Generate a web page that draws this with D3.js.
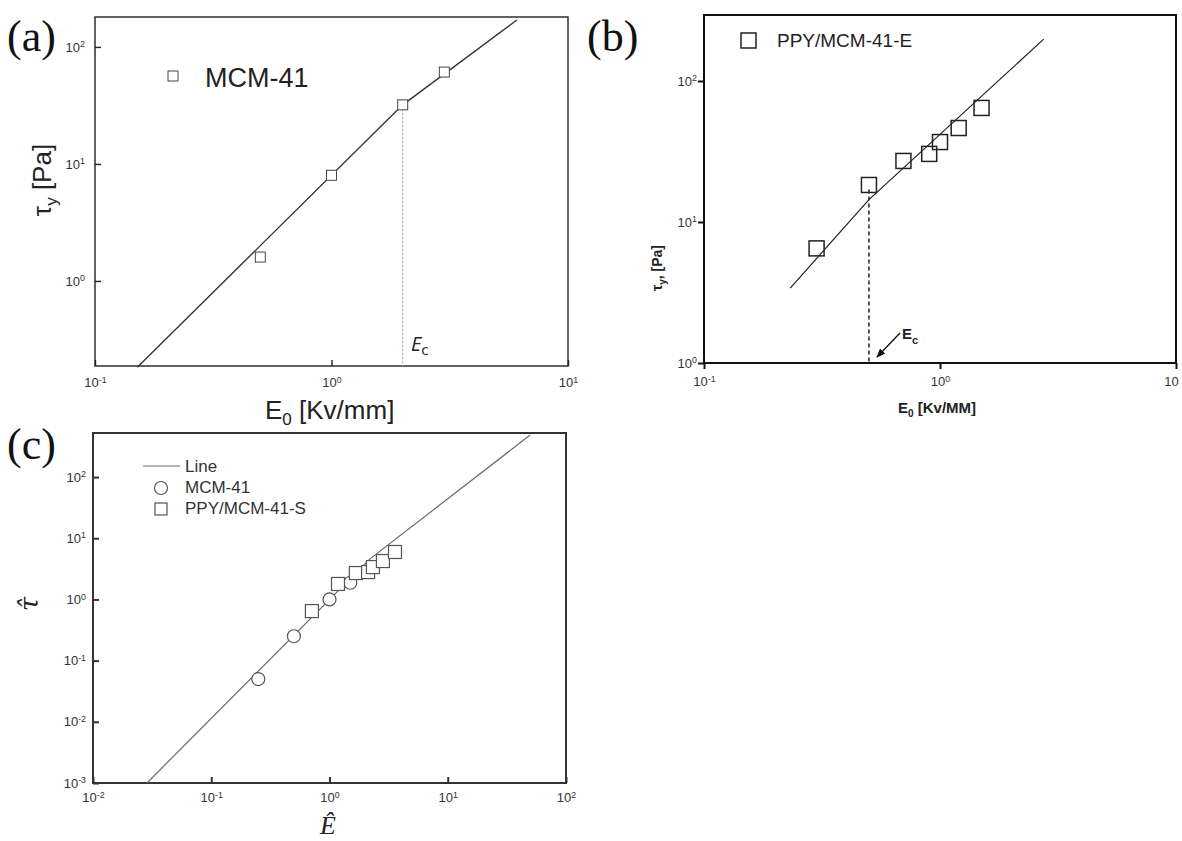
<!DOCTYPE html>
<html>
<head>
<meta charset="UTF-8">
<title>Yield stress vs electric field</title>
<script src="https://cdn.jsdelivr.net/npm/d3@7"></script>
<style>
  body { margin: 0; padding: 0; background: #fff; }
</style>
</head>
<body>
<script>
// ---- panel (a): MCM-41
var aE = [0.5, 1, 2, 3];
var aTau = [1.6, 8, 32, 61];
var aFitE = [0.151, 2, 6.08];
var aFitTau = [0.183, 32, 170];
var aEc = 2;
var aXTicks = [0.1, 1, 10], aYTicks = [1, 10, 100];
var aXLabels = [["10", "-1"], ["10", "0"], ["10", "1"]];
var aYLabels = [["10", "0"], ["10", "1"], ["10", "2"]];

// ---- panel (b): PPY/MCM-41-E
var bE = [0.3, 0.5, 0.7, 0.9, 1.0, 1.2, 1.5];
var bTau = [6.5, 18.3, 27.1, 30.4, 36.9, 46.4, 64.4];
var bFitE = [0.232, 0.5, 2.75];
var bFitTau = [3.4, 14.4, 198];
var bEc = 0.5, bEcTop = 17;
var bXTicks = [0.1, 1, 10], bYTicks = [1, 10, 100];
var bXLabels = [["10", "-1"], ["10", "0"], ["10", ""]];
var bYLabels = [["10", "0"], ["10", "1"], ["10", "2"]];

// ---- panel (c): normalised
var cCircE = [0.25, 0.5, 1, 1.5];
var cCircTau = [0.05, 0.25, 1, 1.875];
var cSqE = [0.71, 1.18, 1.67, 2.12, 2.33, 2.83, 3.58];
var cSqTau = [0.645, 1.79, 2.70, 2.8, 3.38, 4.24, 5.96];
var cFitE = [0.0286, 2.2, 49.7];
var cFitTau = [0.001, 4.6, 485];
var cXTicks = [0.01, 0.1, 1, 10, 100], cYTicks = [0.001, 0.01, 0.1, 1, 10, 100];
var cXLabels = [["10", "-2"], ["10", "-1"], ["10", "0"], ["10", "1"], ["10", "2"]];
var cYLabels = [["10", "-3"], ["10", "-2"], ["10", "-1"], ["10", "0"], ["10", "1"], ["10", "2"]];

var SANS = "'Liberation Sans', Arial, sans-serif";
var SERIF = "'Liberation Serif', 'Times New Roman', serif";

var svg = d3.select("body").append("svg")
	.attr("width", 1182)
	.attr("height", 841)
	.style("font-family", SANS);

function zip(xs, ys) {
	return xs.map(function (v, i) { return [v, ys[i]]; });
}

// write "10" + superscript into the tick texts
function supLabels(sel, labels, size) {
	sel.selectAll(".tick text").each(function (d, i) {
		var t = d3.select(this).text(labels[i][0])
			.attr("font-size", size)
			.attr("fill", "#333");
		if (labels[i][1] !== "") {
			t.append("tspan").attr("dy", "-0.5em").attr("font-size", "0.68em").text(labels[i][1]);
		}
	});
}

function makePanel(p) {
	var x = d3.scaleLog().domain(p.xDom).range([p.l, p.r]);
	var y = d3.scaleLog().domain(p.yDom).range([p.b, p.t]);
	var g = svg.append("g");

	var gy = g.append("g")
		.attr("transform", "translate(" + p.l + ",0)")
		.call(d3.axisLeft(y).tickValues(p.yTicks).tickSize(p.tick).tickPadding(p.yPad).tickFormat(""));
	var gx = g.append("g")
		.attr("transform", "translate(0," + p.b + ")")
		.call(d3.axisBottom(x).tickValues(p.xTicks).tickSize(p.tick).tickPadding(p.xPad).tickFormat(""));
	[gx, gy].forEach(function (a) {
		a.attr("font-family", null);
		a.select(".domain").remove();
		a.selectAll(".tick line").attr("stroke", p.frame).attr("stroke-width", p.fw);
	});
	supLabels(gy, p.yLabels, p.fs);
	supLabels(gx, p.xLabels, p.fs);

	g.append("rect")
		.attr("x", p.l).attr("y", p.t)
		.attr("width", p.r - p.l).attr("height", p.b - p.t)
		.attr("fill", "none")
		.attr("stroke", p.frame)
		.attr("stroke-width", p.fw);

	return { x: x, y: y, g: g, gx: gx, gy: gy };
}

function lineOf(pn) {
	return d3.line().x(function (d) { return pn.x(d[0]); }).y(function (d) { return pn.y(d[1]); });
}

// ================= (a)
var pa = makePanel({
	l: 95, r: 568, t: 17, b: 366,
	xDom: [0.1, 10], yDom: [Math.pow(10, -0.727), Math.pow(10, 2.256)],
	xTicks: aXTicks, yTicks: aYTicks, xLabels: aXLabels, yLabels: aYLabels,
	tick: -6, xPad: 12, yPad: 10, fs: 13, frame: "#222", fw: 1.4
});

pa.g.append("line")
	.attr("x1", pa.x(aEc)).attr("x2", pa.x(aEc))
	.attr("y1", pa.y(aTau[2])).attr("y2", 366)
	.attr("stroke", "#9a9a9a").attr("stroke-width", 1)
	.attr("stroke-dasharray", "2,2");

pa.g.append("path")
	.datum(zip(aFitE, aFitTau))
	.attr("d", lineOf(pa))
	.attr("fill", "none").attr("stroke", "#333").attr("stroke-width", 1.4);

pa.g.selectAll("rect.pt").data(zip(aE, aTau)).enter().append("rect")
	.attr("class", "pt")
	.attr("x", function (d) { return pa.x(d[0]) - 5; })
	.attr("y", function (d) { return pa.y(d[1]) - 5; })
	.attr("width", 10).attr("height", 10)
	.attr("fill", "#fff").attr("stroke", "#444").attr("stroke-width", 1);

pa.g.append("rect").attr("x", 168).attr("y", 71).attr("width", 10).attr("height", 10)
	.attr("fill", "#fff").attr("stroke", "#444").attr("stroke-width", 1);
pa.g.append("text").attr("x", 205).attr("y", 87).attr("font-size", 27).attr("fill", "#222").text("MCM-41");

var ecA = pa.g.append("text").attr("x", 411).attr("y", 351)
	.style("font-family", "'Open Sans', sans-serif").style("font-style", "italic")
	.attr("font-size", 20).attr("fill", "#222").text("E");
ecA.append("tspan").attr("dy", 4).attr("font-size", 15).style("font-style", "normal").text("c");

var axA = svg.append("text").attr("x", 265).attr("y", 419).attr("font-size", 26).attr("fill", "#222").text("E");
axA.append("tspan").attr("dy", 6).attr("font-size", 17).text("0");
axA.append("tspan").attr("dy", -6).text(" [Kv/mm]");

var ayA = svg.append("text").attr("transform", "translate(51,180) rotate(-90)")
	.attr("text-anchor", "middle").attr("font-size", 26).attr("fill", "#222").text("\u03C4");
ayA.append("tspan").attr("dy", 6).attr("font-size", 17).text("y");
ayA.append("tspan").attr("dy", -6).text(" [Pa]");

// ================= (b)
var pb = makePanel({
	l: 704, r: 1176, t: 15, b: 363,
	xDom: [0.1, 10], yDom: [1, Math.pow(10, 2.468)],
	xTicks: bXTicks, yTicks: bYTicks, xLabels: bXLabels, yLabels: bYLabels,
	tick: 6, xPad: 8, yPad: 1, fs: 13, frame: "#111", fw: 2
});
// last x label sits against the page edge
pb.gx.selectAll(".tick text").filter(function (d) { return d === 10; }).attr("dx", -5);

pb.g.append("line")
	.attr("x1", pb.x(bEc)).attr("x2", pb.x(bEc))
	.attr("y1", pb.y(bEcTop)).attr("y2", 363)
	.attr("stroke", "#111").attr("stroke-width", 1.4)
	.attr("stroke-dasharray", "4,3");

pb.g.append("path")
	.datum(zip(bFitE, bFitTau))
	.attr("d", lineOf(pb))
	.attr("fill", "none").attr("stroke", "#222").attr("stroke-width", 1.2);

pb.g.selectAll("rect.pt").data(zip(bE, bTau)).enter().append("rect")
	.attr("class", "pt")
	.attr("x", function (d) { return pb.x(d[0]) - 7.5; })
	.attr("y", function (d) { return pb.y(d[1]) - 7.5; })
	.attr("width", 15).attr("height", 15)
	.attr("fill", "none").attr("stroke", "#222").attr("stroke-width", 1.5);

pb.g.append("rect").attr("x", 741).attr("y", 33).attr("width", 15).attr("height", 15)
	.attr("fill", "none").attr("stroke", "#222").attr("stroke-width", 1.5);
pb.g.append("text").attr("x", 777).attr("y", 47).attr("font-size", 19).attr("fill", "#222").text("PPY/MCM-41-E");

// arrow pointing at E_c
svg.append("defs").append("marker")
	.attr("id", "arr").attr("viewBox", "0 0 10 10").attr("refX", 9).attr("refY", 5)
	.attr("markerWidth", 7).attr("markerHeight", 7).attr("orient", "auto")
	.append("path").attr("d", "M0,1 L10,5 L0,9 Z").attr("fill", "#111");
pb.g.append("line").attr("x1", 900).attr("y1", 333).attr("x2", 877).attr("y2", 357)
	.attr("stroke", "#111").attr("stroke-width", 1.3).attr("marker-end", "url(#arr)");
var ecB = pb.g.append("text").attr("x", 902).attr("y", 339).attr("font-size", 15)
	.attr("font-weight", "bold").attr("fill", "#222").text("E");
ecB.append("tspan").attr("dy", 5).attr("font-size", 11).text("c");

var axB = svg.append("text").attr("x", 898).attr("y", 413).attr("font-size", 15)
	.attr("font-weight", "bold").attr("fill", "#222").text("E");
axB.append("tspan").attr("dy", 4).attr("font-size", 10).text("0");
axB.append("tspan").attr("dy", -4).text(" [Kv/MM]");

var ayB = svg.append("text").attr("transform", "translate(662,268) rotate(-90)")
	.attr("text-anchor", "middle").attr("font-size", 14).attr("font-weight", "bold")
	.attr("fill", "#222").text("\u03C4");
ayB.append("tspan").attr("dy", 4).attr("font-size", 10).text("y");
ayB.append("tspan").attr("dy", -4).text(", [Pa]");

// ================= (c)
var pc = makePanel({
	l: 93, r: 566, t: 433, b: 783,
	xDom: [0.01, 100], yDom: [0.001, Math.pow(10, 2.72)],
	xTicks: cXTicks, yTicks: cYTicks, xLabels: cXLabels, yLabels: cYLabels,
	tick: -6, xPad: 10, yPad: 7, fs: 13, frame: "#333", fw: 2
});

pc.g.append("path")
	.datum(zip(cFitE, cFitTau))
	.attr("d", lineOf(pc))
	.attr("fill", "none").attr("stroke", "#6a6a6a").attr("stroke-width", 1.2);

pc.g.selectAll("circle.pt").data(zip(cCircE, cCircTau)).enter().append("circle")
	.attr("class", "pt")
	.attr("cx", function (d) { return pc.x(d[0]); })
	.attr("cy", function (d) { return pc.y(d[1]); })
	.attr("r", 6.5)
	.attr("fill", "#fff").attr("stroke", "#555").attr("stroke-width", 1.2);

pc.g.selectAll("rect.pt").data(zip(cSqE, cSqTau)).enter().append("rect")
	.attr("class", "pt")
	.attr("x", function (d) { return pc.x(d[0]) - 6.5; })
	.attr("y", function (d) { return pc.y(d[1]) - 6.5; })
	.attr("width", 13).attr("height", 13)
	.attr("fill", "#fff").attr("stroke", "#555").attr("stroke-width", 1.2);

// legend
pc.g.append("line").attr("x1", 143).attr("x2", 180).attr("y1", 466).attr("y2", 466)
	.attr("stroke", "#6a6a6a").attr("stroke-width", 1.2);
pc.g.append("circle").attr("cx", 161).attr("cy", 488).attr("r", 6.5)
	.attr("fill", "#fff").attr("stroke", "#555").attr("stroke-width", 1.2);
pc.g.append("rect").attr("x", 155).attr("y", 503).attr("width", 12).attr("height", 12)
	.attr("fill", "#fff").attr("stroke", "#555").attr("stroke-width", 1.2);
[["Line", 472], ["MCM-41", 493], ["PPY/MCM-41-S", 514]].forEach(function (l) {
	pc.g.append("text").attr("x", 185).attr("y", l[1]).attr("font-size", 17).attr("fill", "#333").text(l[0]);
});

svg.append("text").attr("x", 328).attr("y", 834).attr("text-anchor", "middle")
	.style("font-family", SERIF).style("font-style", "italic")
	.attr("font-size", 26).attr("fill", "#222").text("\u00CA");
svg.append("text").attr("transform", "translate(38,604) rotate(-90)").attr("text-anchor", "middle")
	.style("font-family", "'DejaVu Serif', serif").style("font-style", "italic")
	.attr("font-size", 26).attr("fill", "#222").text("\u03C4\u0302");

// panel letters
[["(a)", 7, 51], ["(b)", 587, 51], ["(c)", 7, 459]].forEach(function (p) {
	svg.append("text").attr("x", p[1]).attr("y", p[2])
		.style("font-family", SERIF)
		.attr("font-size", 44).attr("fill", "#111").text(p[0]);
});
</script>
</body>
</html>
